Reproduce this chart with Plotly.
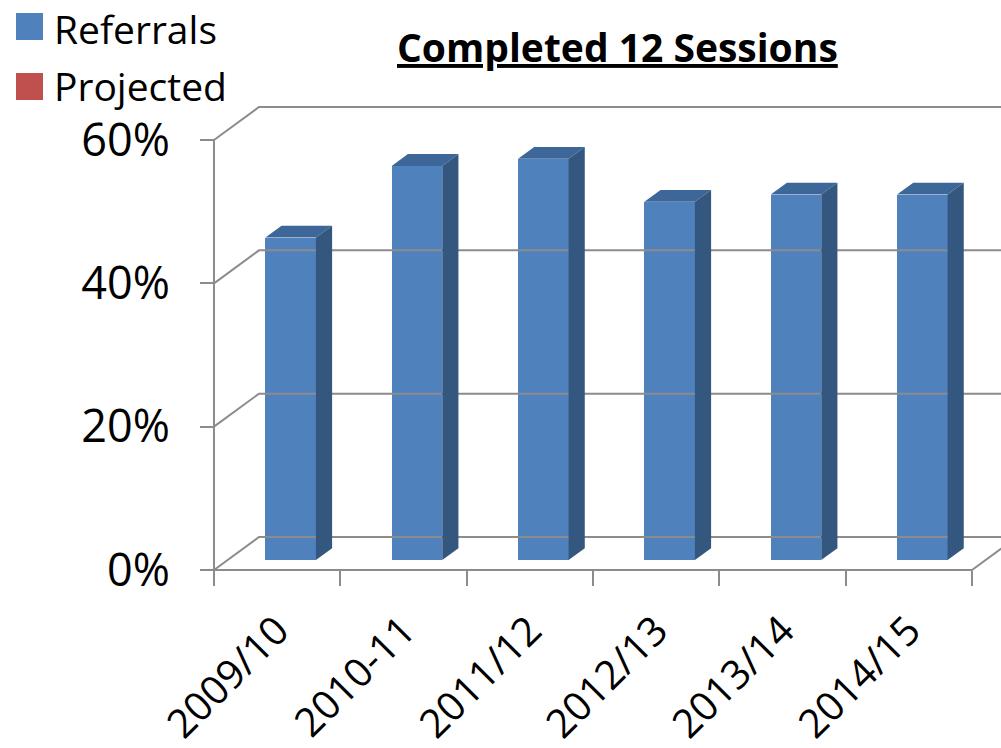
import plotly.graph_objects as go

# Data
categories = ["2009/10", "2010-11", "2011/12", "2012/13", "2013/14", "2014/15"]
referrals = [45, 55, 56, 50, 51, 51]          # percent
y_ticks = [0, 20, 40, 60]
y_tick_text = ["0%", "20%", "40%", "60%"]
series_names = ["Referrals", "Projected"]
series_colors = ["#4F81BD", "#C0504D"]

# Pseudo-3D box: depth axis z in [0, 1] is projected as an oblique offset
DX, DY = 0.356, 4.6          # offset of the back wall in data units
Z1, Z2 = 0.30, 0.66          # front / back depth of each bar
BAR_W = 0.40
GRID = "#8C8C8C"
FONT = "Open Sans"

W, H = 1001, 748
X0_PX, PX_PER_CAT = 214.0, 126.33
Y0_PX, PX_PER_PCT = 570.0, 7.1667
x_range = [-X0_PX / PX_PER_CAT, (W - X0_PX) / PX_PER_CAT]
y_range = [-(H - Y0_PX) / PX_PER_PCT, Y0_PX / PX_PER_PCT]


def proj(x, y, z):
    return x + z * DX, y + z * DY


fig = go.Figure()

# Walls and gridlines
wall_x, wall_y = [], []
for v in y_ticks:
    pts = [proj(0, v, 0), proj(0, v, 1), proj(x_range[1] + 1, v, 1)]
    wall_x += [p[0] for p in pts] + [None]
    wall_y += [p[1] for p in pts] + [None]
n = len(categories)
# front floor edge and right floor diagonal
for p in [proj(0, 0, 0), proj(n, 0, 0), proj(n, 0, 1)]:
    wall_x.append(p[0]); wall_y.append(p[1])
wall_x.append(None); wall_y.append(None)
# front vertical value axis
wall_x += [0, 0]; wall_y += [0, y_ticks[-1]]
fig.add_trace(go.Scatter(x=wall_x, y=wall_y, mode="lines",
                         line=dict(color=GRID, width=2),
                         hoverinfo="skip", showlegend=False))

# Bars: front face
centers = [i + 0.5 for i in range(n)]
fig.add_trace(go.Bar(
    x=[c + Z1 * DX for c in centers], y=referrals, base=Z1 * DY,
    width=BAR_W, marker=dict(color=series_colors[0], line=dict(width=0)),
    name=series_names[0], showlegend=False))

# Bars: top and side faces
top_x, top_y, side_x, side_y = [], [], [], []
for c, v in zip(centers, referrals):
    l, r = c - BAR_W / 2, c + BAR_W / 2
    for p in [proj(l, v, Z1), proj(r, v, Z1), proj(r, v, Z2), proj(l, v, Z2), proj(l, v, Z1)]:
        top_x.append(p[0]); top_y.append(p[1])
    top_x.append(None); top_y.append(None)
    for p in [proj(r, 0, Z1), proj(r, v, Z1), proj(r, v, Z2), proj(r, 0, Z2), proj(r, 0, Z1)]:
        side_x.append(p[0]); side_y.append(p[1])
    side_x.append(None); side_y.append(None)
fig.add_trace(go.Scatter(x=top_x, y=top_y, mode="lines", fill="toself",
                         fillcolor="#3D6699", line=dict(width=0, color="#3D6699"),
                         hoverinfo="skip", showlegend=False))
fig.add_trace(go.Scatter(x=side_x, y=side_y, mode="lines", fill="toself",
                         fillcolor="#34577F", line=dict(width=0, color="#34577F"),
                         hoverinfo="skip", showlegend=False))

# Legend
shapes, annotations = [], []
for k, (name, col) in enumerate(zip(series_names, series_colors)):
    ys = 26.5 + k * 60
    yt = 28 + k * 57
    shapes.append(dict(type="rect", xref="paper", yref="paper",
                       x0=16 / W, x1=43 / W, y0=1 - (ys + 13.5) / H, y1=1 - (ys - 13.5) / H,
                       fillcolor=col, line=dict(width=0)))
    annotations.append(dict(text=name, xref="paper", yref="paper", x=52 / W, y=1 - yt / H,
                            xanchor="left", yanchor="middle", showarrow=False,
                            font=dict(family=FONT, size=39, color="black")))

# Title
annotations.append(dict(text="<b><u>Completed 12 Sessions</u></b>", xref="paper", yref="paper",
                        x=617 / W, y=1 - 46 / H, xanchor="center", yanchor="middle",
                        showarrow=False, font=dict(family=FONT, size=39, color="black")))

fig.update_layout(
    width=W, height=H, margin=dict(l=0, r=0, t=0, b=0, autoexpand=False),
    paper_bgcolor="white", plot_bgcolor="white",
    shapes=shapes, annotations=annotations, showlegend=False,
    bargap=0,
    xaxis=dict(range=x_range, domain=[0, 1], anchor="free", position=(H - Y0_PX) / H,
               automargin=False,
               tickmode="array", tickvals=centers, ticktext=categories,
               tickangle=-45, ticks="", showgrid=False, zeroline=False, showline=False,
               ticklabelstandoff=28,
               tickfont=dict(family=FONT, size=40, color="black"),
               minor=dict(tickmode="array", tickvals=list(range(n + 1)), ticks="outside",
                          ticklen=15, tickcolor=GRID, tickwidth=2, showgrid=False)),
    yaxis=dict(range=y_range, domain=[0, 1], anchor="free", position=X0_PX / W,
               automargin=False,
               tickmode="array", tickvals=y_ticks, ticktext=y_tick_text,
               ticks="outside", ticklen=14, tickcolor=GRID, tickwidth=2,
               ticklabelstandoff=21,
               showgrid=False, zeroline=False, showline=False,
               tickfont=dict(family=FONT, size=45, color="black")),
)

fig.write_html("out.html")
